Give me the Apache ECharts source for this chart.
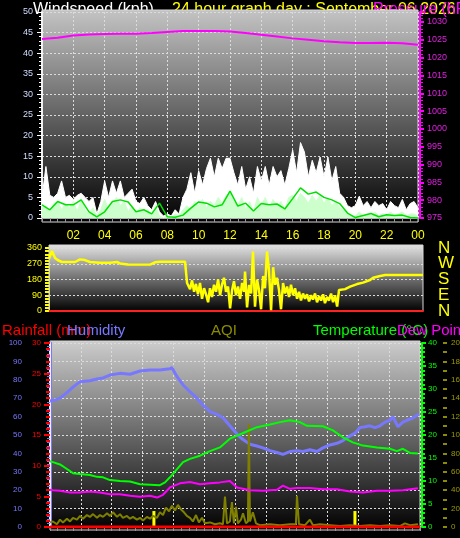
<!DOCTYPE html>
<html>
<head>
<meta charset="utf-8">
<script src="https://cdn.jsdelivr.net/npm/echarts@6/dist/echarts.min.js"></script>
<style>
  html, body { margin: 0; padding: 0; background: #000; }
  #chart { width: 460px; height: 538px; }
</style>
</head>
<body>
<div id="chart"></div>
<script>
// ---- top panel: wind (kph) every 15 min, pressure (hPa) hourly ----
const gust = [
  5, 12.5, 5.5, 5,   6, 9, 5, 5.5,   4.5, 5.5, 6, 5,   4, 5, 1, 4,
  9, 5, 9, 6,   9, 5, 6, 7,   4, 3.5, 5, 3,   2, 4, 1.5, 0.5,
  1, 0.5, 2, 1,   5, 7, 11, 6,   11.5, 8, 12, 14.5,   10, 14.5, 12, 14.5,
  14.5, 11, 8, 12.5,   7, 10, 6, 12.5,   9, 12.5, 8, 12.5,   10, 11.5, 8, 12,
  16.5, 11, 18.3, 16,   10, 14, 11, 14.8,   10, 14.8, 9, 12.5,   6, 5, 3, 2.5,
  3, 5.3, 3, 4,   2.5, 4, 3, 3.5,   2, 4, 3, 2.5,   4.5, 2, 3.5, 4,   2.5
]
const windSpeed = [
  2.5, 3, 1.5, 3.5,   4, 2, 3.5, 2.5,   4, 1.5, 4.5, 2,   1, 2.5, 0.5, 2,
  4.5, 2, 3.5, 5,   3, 4, 1.5, 3,   1, 2.5, 1.5, 2,   1, 3, 0.5, 0,
  0.5, 0, 1, 0.5,   2, 3, 2, 4,   3, 4.5, 2.5, 4,   3, 5, 3.5, 5.5,
  6, 4, 3, 5,   2, 4, 1.5, 5,   3, 5, 2.5, 4.5,   3, 4, 2, 5,
  5.5, 4, 6, 5,   3.5, 5.5, 4, 5.5,   3.5, 5, 3, 4,   2.5, 2, 1, 0.5,
  0.5, 1.5, 0.5, 1,   0.5, 1.5, 0.5, 1,   0.5, 1.5, 0.5, 1,   1.5, 0.5, 1, 1,   0.5
]
// every 30 min
const windAvg = [
  3.2, 2.0, 4.0, 3.2, 3.2, 4.4, 1.5, 0.3, 1.5, 4.0, 4.4, 3.9, 1.5, 2.0, 1.0, 3.6,
  0.3, 0.2, 0.7, 2.4, 3.9, 3.6, 2.7, 3.2, 6.5, 2.9, 3.6, 1.7, 3.5, 3.2, 3.4, 2.2,
  4.7, 7.3, 5.8, 6.3, 5.0, 4.4, 3.5, 1.2, 0.1, 0.6, 1.1, 0.3, 0.8, 0.6, 0.7, 0.1, 0
]
const pressure = [
  1025.2, 1025.6, 1026.2, 1026.5, 1026.6, 1026.7, 1026.7, 1026.9, 1027.2, 1027.5,
  1027.5, 1027.5, 1027.3, 1026.9, 1026.4, 1025.9, 1025.4, 1025.0, 1024.6, 1024.3,
  1024.1, 1024.1, 1024.2, 1024.0, 1023.6
]
const hourLabels = ['', '02', '04', '06', '08', '10', '12', '14', '16', '18', '20', '22', '00']

// ---- middle panel: wind direction [hour, degrees] ----
const windDir = [
  [0, 300], [0.19, 343], [0.39, 303], [0.58, 290], [0.83, 280], [1.67, 280], [1.99, 295], [2.31, 291],
  [2.63, 280], [3.27, 276], [3.9, 276], [4.36, 280], [4.56, 272], [5.07, 266], [6.48, 265], [6.8, 278],
  [7.12, 282], [8.73, 282], [8.86, 160], [8.92, 150], [9.05, 125], [9.18, 175], [9.31, 110], [9.43, 155],
  [9.56, 95], [9.69, 160], [9.82, 70], [9.95, 130], [10.08, 95], [10.21, 50], [10.33, 130], [10.46, 80],
  [10.59, 150], [10.72, 110], [10.85, 180], [10.98, 90], [11.1, 150], [11.23, 190], [11.36, 110], [11.49, 140],
  [11.62, 15], [11.75, 120], [11.87, 170], [12.0, 90], [12.13, 140], [12.26, 70], [12.39, 160], [12.52, 110],
  [12.58, 225], [12.71, 20], [12.84, 150], [12.97, 100], [13.09, 340], [13.22, 25], [13.35, 180], [13.48, 120],
  [13.61, 10], [13.74, 200], [13.86, 130], [13.99, 340], [14.12, 230], [14.25, 5], [14.38, 250], [14.51, 150],
  [14.63, 190], [14.76, 120], [14.89, 10], [15.02, 160], [15.15, 100], [15.28, 140], [15.4, 80], [15.53, 150],
  [15.66, 90], [15.79, 130], [15.92, 70], [16.05, 110], [16.17, 60], [16.3, 100], [16.43, 70], [16.56, 95],
  [16.69, 55], [16.82, 90], [16.94, 65], [17.07, 100], [17.2, 50], [17.33, 85], [17.46, 60], [17.59, 95],
  [17.71, 45], [17.84, 80], [17.97, 60], [18.1, 100], [18.23, 50], [18.36, 90], [18.49, 25], [18.61, 120],
  [19.0, 125], [19.32, 139], [19.77, 154], [20.15, 162], [20.6, 177], [20.8, 190], [21.25, 200], [21.57, 206],
  [24, 206]
]
// compass points from 0 to 360 degrees
const dirLabels = ['N', 'E', 'S', 'W', 'N']

// ---- bottom panel: [hour, value] ----
const humidity = [
  [0, 68.5], [0.32, 69], [0.65, 70], [1.1, 73], [1.49, 76], [1.95, 79], [2.59, 79.5], [3.05, 80.4],
  [3.44, 81], [3.89, 82.6], [4.54, 83.5], [5.19, 83], [5.84, 84.8], [6.49, 85.3], [7.13, 85.3], [7.78, 86],
  [7.91, 86.6], [8.24, 81.7], [8.63, 77.2], [9.08, 73.5], [9.53, 70], [9.92, 66.3], [10.38, 62.7], [10.83, 61.2],
  [11.22, 59.4], [11.67, 55], [12.13, 50.5], [12.52, 47.5], [12.97, 45], [13.42, 44], [13.81, 43], [14.27, 41.5],
  [14.72, 40.5], [15.11, 39.5], [15.56, 41], [16.02, 41.5], [16.41, 41], [16.86, 42], [17.32, 41], [17.7, 43],
  [18.16, 44.6], [18.61, 45.5], [19.0, 47], [19.46, 49.5], [19.78, 51], [20.1, 54], [20.43, 54.5], [20.75, 55],
  [21.08, 54], [21.4, 55], [21.73, 57], [22.05, 58], [22.24, 60], [22.57, 54.5], [22.89, 57], [23.15, 58],
  [23.48, 59], [23.93, 61.4]
]
const temperature = [
  [0, 14.3], [0.19, 14.1], [0.65, 13.6], [1.1, 12.6], [1.49, 11.7], [1.95, 11.5], [2.59, 11.3], [3.05, 10.9],
  [3.44, 10.8], [3.89, 10.2], [4.54, 10], [5.19, 9.9], [5.84, 9.3], [6.49, 9.2], [7.13, 9.1], [7.46, 9.7],
  [7.78, 10.8], [8.24, 12.6], [8.63, 14.1], [9.08, 14.8], [9.73, 15.5], [10.38, 16.5], [11.02, 17.3], [11.67, 19.2],
  [12.65, 20.6], [13.42, 21.7], [14.27, 22.3], [14.92, 22.8], [15.56, 23.2], [16.21, 22.8], [16.67, 22], [17.7, 21.9],
  [18.35, 21], [19.0, 19.5], [19.64, 18.4], [20.3, 17.7], [21.21, 17.3], [22.05, 17], [22.5, 16.5], [22.89, 17],
  [23.35, 16.1], [23.87, 16]
]
const dewPoint = [
  [0, 8.1], [0.19, 8], [0.65, 7.9], [1.3, 7.5], [1.95, 7.5], [2.59, 7.7], [3.24, 7.5], [3.89, 7.1],
  [4.54, 7.1], [5.19, 6.8], [5.84, 6.6], [6.49, 6.8], [6.94, 6.4], [7.33, 7], [7.78, 8.6], [8.43, 9.5],
  [9.08, 9.8], [9.73, 9.3], [10.38, 9.5], [11.02, 9.7], [11.67, 10], [12.13, 8.6], [12.97, 8], [13.81, 7.9],
  [14.72, 8.1], [15.11, 9], [15.56, 8.3], [16.02, 8.5], [16.86, 8.5], [17.7, 8.2], [18.61, 8.2], [19.46, 7.7],
  [20.3, 7.5], [21.21, 7.9], [22.05, 7.9], [22.89, 8], [23.87, 8.4]
]
const aqi = [
  [0, 5], [0.19, 6], [0.45, 3], [0.65, 8], [0.84, 5], [1.1, 9], [1.3, 6], [1.49, 10], [1.75, 8], [1.95, 12],
  [2.14, 9], [2.4, 13], [2.59, 11], [2.79, 14], [3.05, 10], [3.24, 13], [3.44, 11], [3.7, 15], [3.89, 12], [4.09, 16],
  [4.35, 11], [4.54, 14], [4.73, 10], [4.99, 12], [5.19, 9], [5.38, 11], [5.64, 8], [5.84, 10], [6.03, 7], [6.29, 11],
  [6.49, 9], [6.68, 12], [6.94, 10], [7.13, 16], [7.33, 13], [7.52, 21], [7.72, 17], [7.91, 23], [8.11, 18], [8.3, 24],
  [8.5, 19], [8.69, 16], [8.88, 12], [9.08, 10], [9.27, 6], [9.47, 13], [9.66, 5], [9.86, 10], [10.05, 4], [10.38, 5],
  [10.7, 3], [11.02, 4], [11.22, 3], [11.35, 33], [11.48, 4], [11.67, 6], [11.8, 27], [11.93, 4], [12.06, 22], [12.19, 4],
  [12.39, 8], [12.52, 15], [12.71, 4], [12.84, 6], [12.9, 112], [12.97, 6], [13.16, 16], [13.36, 4], [13.62, 2], [14.27, 3],
  [14.92, 2], [15.56, 3], [15.95, 3], [16.02, 34], [16.15, 3], [16.54, 2], [16.86, 8], [17.06, 2], [17.51, 3], [18.16, 2],
  [18.81, 1], [19.46, 2], [20.1, 1], [20.75, 2], [21.4, 1], [22.05, 2], [22.7, 1], [23.02, 4], [23.35, 2], [23.87, 3]
]
const rainfall = [[0, 0], [24, 0]]
const rainRate = [[6.74, 2.6], [19.78, 2.6]]

const FONT = 'Liberation Sans, Arial, sans-serif'
const dotted = { color: '#dcdcdc', type: [2, 2], width: 1 }

function grad (top, bottom) {
  return { type: 'linear', x: 0, y: 0, x2: 0, y2: 1, colorStops: [{ offset: 0, color: top }, { offset: 1, color: bottom }] }
}
function title (text, x, y, color, size) {
  return { type: 'text', z: -2, x: x, y: y, style: { text: text, fill: color, font: size + 'px ' + FONT, align: 'left', verticalAlign: 'middle' } }
}
function panel (x, y, w, h, top) {
  return { type: 'rect', z: -1, shape: { x: x, y: y, width: w, height: h }, style: { fill: grad(top, '#000'), stroke: '#d8d8d8', lineWidth: 1 } }
}
function lbl (color, margin, size) {
  return { color: color, fontSize: size || 9, fontFamily: FONT, margin: margin }
}

const chart = echarts.init(document.getElementById('chart'))
chart.setOption({
  backgroundColor: '#000',
  animation: false,
  graphic: {
    elements: [
      title('Windspeed (kph)', 33, 10, '#ffffff', 16),
      title('24 hour graph day : September 06 2026', 172, 10, '#ffff00', 16),
      title('Pressure (hPa)', 373, 10, '#ff00ff', 16),
      title('Rainfall (mm)', 2, 331, '#ff0000', 15),
      title('Humidity', 67, 331, '#7878ff', 15),
      title('AQI', 211, 331, '#8c8c00', 15),
      title('Temperature (°C)', 313, 331, '#00ff00', 15),
      title('Dew Point', 397, 331, '#ff00ff', 15),
      panel(42, 10, 376, 212, '#c4c4c4'),
      panel(49, 245, 374, 66, '#e4e4e4'),
      panel(50, 341, 370, 189, '#cdcdcd')
    ]
  },
  grid: [
    { left: 42, top: 12, width: 376, height: 206, outerBoundsMode: 'none' },
    { left: 49, top: 248, width: 374, height: 63, outerBoundsMode: 'none' },
    { left: 50, top: 343, width: 370, height: 184, outerBoundsMode: 'none' }
  ],
  xAxis: [
    {
      gridIndex: 0, type: 'value', min: 0, max: 24, interval: 2, offset: 4,
      axisLine: { lineStyle: { color: '#b0b0b0', width: 2 } },
      axisTick: { length: 4, lineStyle: { color: '#999' } },
      minorTick: { show: true, splitNumber: 4, length: 4, lineStyle: { color: '#999' } },
      axisLabel: Object.assign(lbl('#ffff00', 8, 12), { formatter: v => hourLabels[v / 2] || '' }),
      splitLine: { show: true, lineStyle: dotted }
    },
    {
      gridIndex: 1, type: 'value', min: 0, max: 24,
      axisLine: { lineStyle: { color: '#ff2020', width: 2 } },
      axisTick: { show: false }, axisLabel: { show: false }, splitLine: { show: false }
    },
    {
      gridIndex: 2, type: 'value', min: 0, max: 24, interval: 2, offset: 3,
      axisLine: { lineStyle: { color: '#d0d0d0', width: 2 } },
      axisTick: { length: 4, lineStyle: { color: '#999' } },
      minorTick: { show: true, splitNumber: 4, length: 4, lineStyle: { color: '#999' } },
      axisLabel: { show: false },
      splitLine: { show: true, lineStyle: dotted }
    }
  ],
  yAxis: [
    {
      gridIndex: 0, type: 'value', min: 0, max: 50, interval: 5,
      axisLine: { show: true, lineStyle: { color: '#f0f0f0', width: 2 } },
      axisTick: { length: 5, lineStyle: { color: '#fff' } },
      minorTick: { show: true, splitNumber: 5, length: 3, lineStyle: { color: '#fff' } },
      axisLabel: lbl('#d0ddff', 9),
      splitLine: { show: true, lineStyle: dotted }
    },
    {
      gridIndex: 0, type: 'value', position: 'right', offset: 2, min: 975, max: 1032.8, interval: 5,
      axisLine: { show: true, lineStyle: { color: '#ff00ff', width: 2 } },
      axisTick: { length: 4, lineStyle: { color: '#ff00ff', width: 2 } },
      minorTick: { show: true, splitNumber: 5, length: 3, lineStyle: { color: '#ff00ff' } },
      axisLabel: Object.assign(lbl('#e020e0', 7), { formatter: v => (v % 5 === 0 ? v : '') }),
      splitLine: { show: false }
    },
    {
      gridIndex: 1, type: 'value', min: 0, max: 360, interval: 90,
      axisLine: { show: true, lineStyle: { color: '#d0d0d0', width: 1 } },
      axisTick: { length: 4, lineStyle: { color: '#ffff00', width: 2 } },
      minorTick: { show: true, splitNumber: 5, length: 4, lineStyle: { color: '#ffff00', width: 2 } },
      axisLabel: lbl('#ffff00', 7),
      splitLine: { show: true, lineStyle: dotted }
    },
    {
      gridIndex: 1, type: 'category', position: 'right', boundaryGap: false, data: dirLabels,
      axisLine: { show: false }, axisTick: { show: false }, splitLine: { show: false },
      axisLabel: Object.assign(lbl('#ffff00', 15, 17), { interval: 0, hideOverlap: false })
    },
    {
      gridIndex: 2, type: 'value', position: 'left', offset: 20, min: 0, max: 100, interval: 10,
      axisLine: { show: true, lineStyle: { color: '#7878ff', width: 3 } },
      axisTick: { length: 4, lineStyle: { color: '#7878ff', width: 2 } },
      minorTick: { show: true, splitNumber: 5, length: 3, lineStyle: { color: '#7878ff' } },
      axisLabel: lbl('#7878ff', 8, 8),
      splitLine: { show: true, lineStyle: dotted }
    },
    {
      gridIndex: 2, type: 'value', position: 'left', offset: 0, min: 0, max: 30, interval: 5,
      axisLine: { show: true, lineStyle: { color: '#f0f0f0', width: 2 } },
      axisTick: { length: 6, lineStyle: { color: '#ff0000', width: 2 } },
      minorTick: { show: true, splitNumber: 5, length: 4, lineStyle: { color: '#ff0000', width: 2 } },
      axisLabel: lbl('#ff0000', 9, 8),
      splitLine: { show: false }
    },
    {
      gridIndex: 2, type: 'value', position: 'right', offset: 2, min: 0, max: 40, interval: 5,
      axisLine: { show: true, lineStyle: { color: '#00ff00', width: 2 } },
      axisTick: { length: 4, lineStyle: { color: '#00ff00', width: 2 } },
      minorTick: { show: true, splitNumber: 5, length: 3, lineStyle: { color: '#00ff00', width: 2 } },
      axisLabel: lbl('#00ff00', 6, 8),
      splitLine: { show: false }
    },
    {
      gridIndex: 2, type: 'value', position: 'right', offset: 23, min: 0, max: 200, interval: 20,
      axisLine: { show: false },
      axisTick: { show: true, length: 4, lineStyle: { color: '#8c8c00', width: 2 } },
      minorTick: { show: true, splitNumber: 2, length: 4, lineStyle: { color: '#8c8c00', width: 2 } },
      axisLabel: lbl('#9a9a00', 8, 8),
      splitLine: { show: false }
    }
  ],
  series: [
    {
      name: 'Gust', type: 'line', xAxisIndex: 0, yAxisIndex: 0, showSymbol: false,
      data: gust.map((v, i) => [i * 0.25, v]),
      lineStyle: { color: '#ffffff', width: 1 }, areaStyle: { color: '#ffffff', opacity: 1 }
    },
    {
      name: 'Wind speed', type: 'line', xAxisIndex: 0, yAxisIndex: 0, showSymbol: false,
      data: windSpeed.map((v, i) => [i * 0.25, v]),
      lineStyle: { color: '#ccffcc', width: 1 }, areaStyle: { color: '#ccffcc', opacity: 1 }
    },
    {
      name: 'Average', type: 'line', xAxisIndex: 0, yAxisIndex: 0, showSymbol: false,
      data: windAvg.map((v, i) => [i * 0.5, v]),
      lineStyle: { color: '#00e000', width: 1.5 }
    },
    {
      name: 'Pressure', type: 'line', xAxisIndex: 0, yAxisIndex: 1, showSymbol: false,
      data: pressure.map((v, i) => [i, v]),
      lineStyle: { color: '#ff00ff', width: 2 }
    },
    {
      name: 'Direction', type: 'line', xAxisIndex: 1, yAxisIndex: 2, showSymbol: false,
      data: windDir, lineStyle: { color: '#ffff00', width: 2.5 }
    },
    {
      name: 'Humidity', type: 'line', xAxisIndex: 2, yAxisIndex: 4, showSymbol: false,
      data: humidity, lineStyle: { color: '#7878ff', width: 3 }
    },
    {
      name: 'AQI', type: 'line', xAxisIndex: 2, yAxisIndex: 7, showSymbol: false,
      data: aqi, lineStyle: { color: '#808000', width: 2 }
    },
    {
      name: 'Rainfall', type: 'line', xAxisIndex: 2, yAxisIndex: 5, showSymbol: false,
      data: rainfall, lineStyle: { color: '#ff0000', width: 3 }
    },
    {
      name: 'Rain rate', type: 'bar', xAxisIndex: 2, yAxisIndex: 5, barWidth: 3,
      data: rainRate, itemStyle: { color: '#ffff00' }
    },
    {
      name: 'Dew Point', type: 'line', xAxisIndex: 2, yAxisIndex: 6, showSymbol: false,
      data: dewPoint, lineStyle: { color: '#ff00ff', width: 2 }
    },
    {
      name: 'Temperature', type: 'line', xAxisIndex: 2, yAxisIndex: 6, showSymbol: false,
      data: temperature, lineStyle: { color: '#00ff00', width: 2 }
    }
  ]
})
</script>
</body>
</html>
